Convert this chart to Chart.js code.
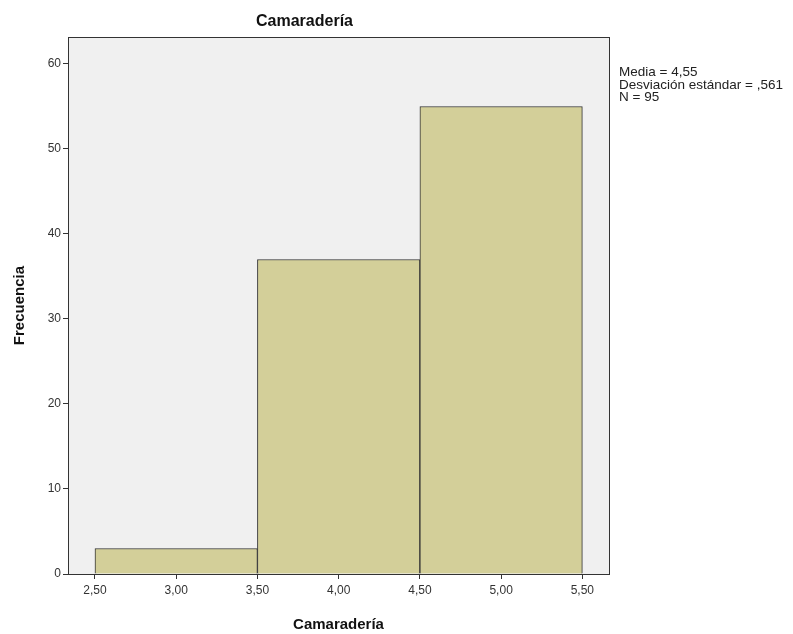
<!DOCTYPE html>
<html>
<head>
<meta charset="utf-8">
<script src="https://cdn.jsdelivr.net/npm/chart.js@4/dist/chart.umd.min.js"></script>
<style>
  html, body { margin: 0; padding: 0; background: #fff; }
  #wrap { position: relative; width: 793px; height: 634px; }
  #stats { position: absolute; left: 619px; top: 66px; font-family: "Liberation Sans", Arial, sans-serif; font-size: 13.5px; line-height: 12.5px; color: #222; white-space: pre; }
</style>
</head>
<body>
<div id="wrap">
  <canvas id="c" width="793" height="634"></canvas>
  <div id="stats">Media = 4,55
Desviación estándar = ,561
N = 95</div>
</div>
<script>
const binCenters = [3.0, 4.0, 5.0];
const frequencies = [3, 37, 55];
const xTicks = [2.5, 3.0, 3.5, 4.0, 4.5, 5.0, 5.5];
const xTickLabels = ['2,50', '3,00', '3,50', '4,00', '4,50', '5,00', '5,50'];
const yTicks = [0, 10, 20, 30, 40, 50, 60];
const titleText = 'Camaradería';
const xTitle = 'Camaradería';
const yTitle = 'Frecuencia';

const areaPlugin = {
  id: 'area',
  beforeDraw(chart) {
    const { ctx, chartArea: a } = chart;
    ctx.save();
    ctx.fillStyle = '#f0f0f0';
    ctx.fillRect(a.left, a.top, a.right - a.left, a.bottom - a.top);
    ctx.restore();
  },
  afterDraw(chart) {
    const { ctx, chartArea: a } = chart;
    ctx.save();
    ctx.strokeStyle = '#333';
    ctx.lineWidth = 1;
    ctx.strokeRect(Math.round(a.left) + 0.5, Math.round(a.top) + 0.5, Math.round(a.right - a.left), Math.round(a.bottom - a.top));
    ctx.restore();
  }
};

new Chart(document.getElementById('c'), {
  type: 'bar',
  data: {
    datasets: [{
      data: binCenters.map((x, i) => ({ x: x, y: frequencies[i] })),
      backgroundColor: '#d3cf99',
      borderColor: '#333333',
      borderWidth: 1,
      barThickness: 'flex',
      barPercentage: 1.0,
      categoryPercentage: 1.0
    }]
  },
  options: {
    responsive: false,
    animation: false,
    events: [],
    layout: { padding: { left: 0, right: 184, top: 0, bottom: 0 } },
    plugins: {
      legend: { display: false },
      tooltip: { enabled: false },
      title: {
        display: true,
        text: titleText,
        color: '#111',
        font: { family: 'Liberation Sans, Arial', size: 16, weight: 'bold' },
        padding: { top: 12, bottom: 6 }
      }
    },
    scales: {
      x: {
        type: 'linear',
        offset: false,
        min: 2.334,
        max: 5.664,
        afterBuildTicks(scale) { scale.ticks = xTicks.map(v => ({ value: v })); },
        afterFit(scale) { scale.height = 60; },
        ticks: {
          callback: (v, i) => xTickLabels[i],
          color: '#333',
          font: { family: 'Liberation Sans, Arial', size: 12 },
          padding: 4,
          maxRotation: 0,
          autoSkip: false
        },
        grid: { drawOnChartArea: false, drawTicks: true, tickLength: 5, color: '#333', offset: false },
        border: { display: true, color: '#333', width: 1 },
        title: {
          display: true,
          text: xTitle,
          color: '#111',
          font: { family: 'Liberation Sans, Arial', size: 15, weight: 'bold' },
          padding: { top: 4, bottom: 0 }
        }
      },
      y: {
        type: 'linear',
        min: 0,
        max: 63.15,
        afterBuildTicks(scale) { scale.ticks = yTicks.map(v => ({ value: v })); },
        afterFit(scale) { scale.width = 68; },
        ticks: {
          color: '#333',
          font: { family: 'Liberation Sans, Arial', size: 12 },
          padding: 2
        },
        grid: { drawOnChartArea: false, drawTicks: true, tickLength: 5, color: '#333' },
        border: { display: true, color: '#333', width: 1 },
        title: {
          display: true,
          text: yTitle,
          color: '#111',
          font: { family: 'Liberation Sans, Arial', size: 15, weight: 'bold' },
          padding: { top: 11, bottom: 0 }
        }
      }
    }
  },
  plugins: [areaPlugin]
});
</script>
</body>
</html>
